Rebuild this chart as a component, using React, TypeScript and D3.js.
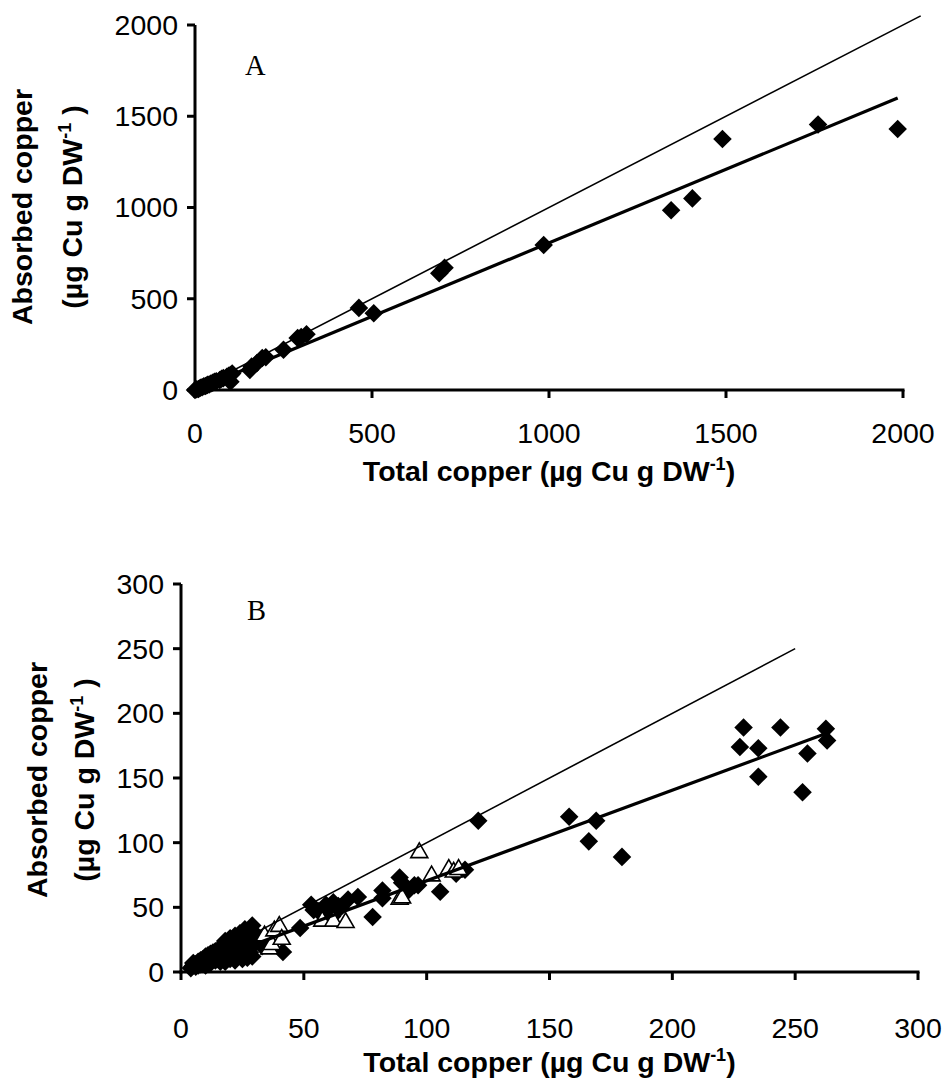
import React from "react";
import * as d3 from "d3";

// ---------- Data ----------
const ticksA: number[] = [0, 500, 1000, 1500, 2000];
const ticksB: number[] = [0, 50, 100, 150, 200, 250, 300];

// Panel A: total copper (x) vs absorbed copper (y), diamonds
const panelADiamonds: [number, number][] = [
  [0, 0], [5, 4], [10, 6], [15, 12], [20, 15], [25, 20], [30, 22], [35, 28], [40, 30],
  [45, 36], [50, 40], [55, 45], [60, 48], [70, 55], [75, 62], [80, 65], [90, 72],
  [95, 78], [100, 82], [100, 45], [105, 90], [155, 110], [160, 128], [175, 148],
  [190, 175], [200, 180], [250, 220], [290, 285], [300, 290], [315, 305],
  [463, 450], [505, 420], [690, 640], [705, 670], [985, 795], [1345, 985],
  [1405, 1050], [1490, 1375], [1760, 1455], [1985, 1430],
];
const panelAFit: [number, number][] = [[0, 0], [1985, 1600]];
const panelAOneToOne: [number, number][] = [[0, 0], [2050, 2050]];

// Panel B: diamonds (filled) and triangles (open)
const panelBDiamonds: [number, number][] = [
  [4, 3], [5, 5], [5, 7], [6, 4], [6, 6], [7, 8], [7, 5], [8, 6], [8, 9], [9, 7], [9, 10],
  [10, 8], [10, 12], [10, 5], [11, 9], [11, 13], [12, 10], [12, 7], [12, 14], [13, 11],
  [13, 15], [14, 9], [14, 12], [14, 16], [15, 13], [15, 10], [15, 17], [16, 12], [16, 15],
  [16, 18], [16, 8], [17, 14], [17, 11], [17, 19], [18, 16], [18, 13], [18, 21], [18, 8],
  [18, 24], [19, 15], [19, 18], [19, 22], [20, 17], [20, 13], [20, 20], [20, 10], [20, 26],
  [21, 16], [21, 19], [21, 24], [22, 18], [22, 14], [22, 21], [22, 9], [22, 28], [23, 20],
  [23, 12], [23, 25], [24, 19], [24, 23], [24, 27], [24, 30], [25, 21], [25, 16], [25, 26],
  [25, 10], [26, 22], [26, 29], [26, 33], [27, 24], [27, 19], [27, 31], [27, 11], [28, 27],
  [28, 33], [28, 15], [29, 25], [29, 30], [29, 12], [29, 36], [30, 22], [31, 28], [33, 20],
  [34, 24],
  [41.5, 15.5], [48.5, 34], [53, 52], [54, 48], [56, 47], [58, 49], [59, 52], [60, 45],
  [62, 54], [61.5, 43], [64, 51], [65, 50], [68, 56], [72, 58], [78, 42.5], [82, 57],
  [82, 63], [89, 73], [90, 69], [92, 62], [95, 67], [96.5, 67], [105.5, 62], [112, 76],
  [115.6, 79], [121, 117], [158, 120], [166, 101], [169, 117], [179.5, 89],
  [227.5, 174], [229, 189], [235, 173], [235, 151], [244, 189], [253, 139], [255, 169],
  [262.5, 188], [263, 179],
];
const panelBTriangles: [number, number][] = [
  [34, 28.6], [36, 18.6], [37, 22], [38, 32.5], [40, 36], [41, 26], [57.5, 40], [62, 40],
  [67, 39], [89, 57], [90, 58], [97, 93], [102, 75], [109, 80], [111, 78], [113, 80],
];
const panelBFit: [number, number][] = [[5, 4], [262, 184]];
const panelBOneToOne: [number, number][] = [[5, 5], [250, 250]];

const xTitleMain = "Total copper (µg Cu g DW";
const yTitleLine1 = "Absorbed copper";
const yTitleLine2 = "(µg Cu g DW";
const supText = "-1";

// ---------- Drawing ----------
const SANS = "'Liberation Sans', Arial, sans-serif";
const SERIF = "'Liberation Serif', 'Times New Roman', serif";
const FS = 28.5;

type PanelProps = {
  xr: [number, number];
  yr: [number, number];
  max: number;
  ticks: number[];
  diamonds: [number, number][];
  triangles?: [number, number][];
  fit: [number, number][];
  oneToOne: [number, number][];
  letter: string;
  letterPos: [number, number];
  xLabelY: number;
  xTitleY: number;
  yTitleX: [number, number];
  yTitleY: number;
  tickLabelGap: number;
};

function Panel(p: PanelProps) {
  const x = d3.scaleLinear().domain([0, p.max]).range(p.xr);
  const y = d3.scaleLinear().domain([0, p.max]).range(p.yr);
  const line = d3
    .line<[number, number]>()
    .x((d) => x(d[0]))
    .y((d) => y(d[1]));
  const diamond = d3.symbol(d3.symbolSquare, 172)();
  const tri = d3.symbol(d3.symbolTriangle, 125)();
  const x0 = x(0);
  const y0 = y(0);
  const tl = 8;
  const midX = (p.xr[0] + p.xr[1]) / 2;
  return (
    <g>
      {p.diamonds.map((d, i) => (
        <path
          key={"d" + i}
          d={diamond || ""}
          transform={`translate(${x(d[0])},${y(d[1])}) rotate(45)`}
          fill="#000"
        />
      ))}
      {(p.triangles || []).map((d, i) => (
        <path
          key={"t" + i}
          d={tri || ""}
          transform={`translate(${x(d[0])},${y(d[1]) + 1})`}
          fill="#fff"
          stroke="#000"
          strokeWidth={1.6}
        />
      ))}
      <path d={line(p.oneToOne) || ""} fill="none" stroke="#000" strokeWidth={1.6} />
      <path d={line(p.fit) || ""} fill="none" stroke="#000" strokeWidth={3.2} />
      <line x1={x0} x2={x0} y1={y0 + 1.5} y2={y(p.max)} stroke="#000" strokeWidth={3} />
      <line x1={x0 - 1.5} x2={x(p.max) + 1.5} y1={y0} y2={y0} stroke="#000" strokeWidth={3} />
      {p.ticks.map((t) => (
        <g key={"yt" + t}>
          <line x1={x0 - tl} x2={x0} y1={y(t)} y2={y(t)} stroke="#000" strokeWidth={3} />
          <text
            x={x0 - p.tickLabelGap}
            y={y(t)}
            dy="0.35em"
            textAnchor="end"
            fontFamily={SANS}
            fontSize={FS}
          >
            {t}
          </text>
        </g>
      ))}
      {p.ticks.map((t) => (
        <g key={"xt" + t}>
          <line x1={x(t)} x2={x(t)} y1={y0} y2={y0 + tl} stroke="#000" strokeWidth={3} />
          <text x={x(t)} y={p.xLabelY} textAnchor="middle" fontFamily={SANS} fontSize={FS}>
            {t}
          </text>
        </g>
      ))}
      <text x={midX} y={p.xTitleY} textAnchor="middle" fontFamily={SANS} fontSize={FS} fontWeight="bold">
        {xTitleMain}
        <tspan dy={-11} fontSize={18}>{supText}</tspan>
        <tspan dy={11}>)</tspan>
      </text>
      <text
        transform={`translate(${p.yTitleX[0]},${p.yTitleY}) rotate(-90)`}
        textAnchor="middle"
        fontFamily={SANS}
        fontSize={FS}
        fontWeight="bold"
      >
        {yTitleLine1}
      </text>
      <text
        transform={`translate(${p.yTitleX[1]},${p.yTitleY}) rotate(-90)`}
        textAnchor="middle"
        fontFamily={SANS}
        fontSize={FS}
        fontWeight="bold"
      >
        {yTitleLine2}
        <tspan dy={-11} fontSize={18}>{supText}</tspan>
        <tspan dy={11}> )</tspan>
      </text>
      <text x={p.letterPos[0]} y={p.letterPos[1]} fontFamily={SERIF} fontSize={FS}>
        {p.letter}
      </text>
    </g>
  );
}

export default function App() {
  return (
    <svg
      width={943}
      height={1084}
      style={{ position: "absolute", left: 0, top: 0, background: "#fff" }}
    >
      <rect width={943} height={1084} fill="#fff" />
      <Panel
        xr={[195, 903]}
        yr={[390, 25]}
        max={2000}
        ticks={ticksA}
        diamonds={panelADiamonds}
        fit={panelAFit}
        oneToOne={panelAOneToOne}
        letter="A"
        letterPos={[245, 75]}
        xLabelY={443}
        xTitleY={481}
        yTitleX={[32, 82]}
        yTitleY={207}
        tickLabelGap={17}
      />
      <Panel
        xr={[181, 918]}
        yr={[972, 584]}
        max={300}
        ticks={ticksB}
        diamonds={panelBDiamonds}
        triangles={panelBTriangles}
        fit={panelBFit}
        oneToOne={panelBOneToOne}
        letter="B"
        letterPos={[247, 620]}
        xLabelY={1038}
        xTitleY={1072}
        yTitleX={[47, 94]}
        yTitleY={780}
        tickLabelGap={17}
      />
    </svg>
  );
}
